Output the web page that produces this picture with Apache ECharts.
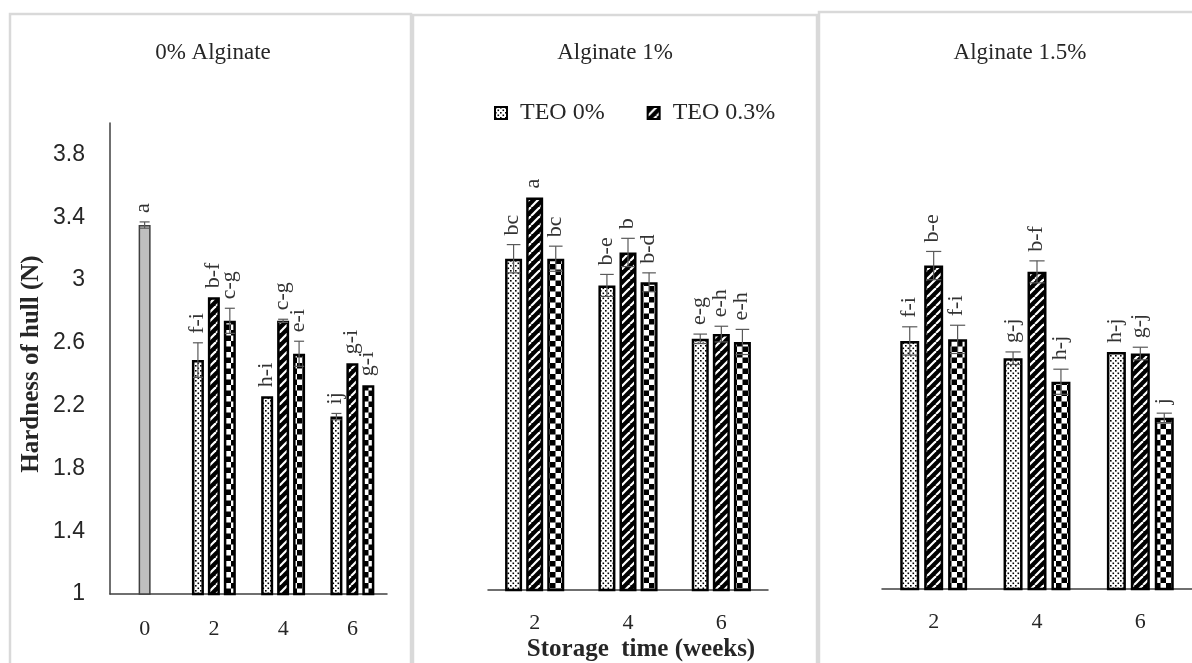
<!DOCTYPE html>
<html><head><meta charset="utf-8">
<script src="https://cdn.jsdelivr.net/npm/echarts@6/dist/echarts.min.js"></script>
<style>html,body{margin:0;padding:0;background:#fff}#c{width:1192px;height:663px}</style>
</head><body><div id="c"></div>
<script>
// ---------- DATA ----------
const weeksCtrl = ['0', '2', '4', '6'];
const weeks = ['2', '4', '6'];
const seriesNames = ['TEO 0%', 'TEO 0.3%', 'TEO 0.6%'];
const legendNames = ['TEO 0%', 'TEO 0.3%'];
const panelTitles = ['0% Alginate', 'Alginate 1%', 'Alginate 1.5%'];
const yAxisTitle = 'Hardness of hull (N)';
const xAxisTitle = 'Storage  time (weeks)';
const yMin = 1, yMax = 4, yStep = 0.4;

// Control at week 0 (0% alginate, no TEO)
const ctrlValue = 3.35, ctrlErr = 0.02, ctrlLetter = 'a';

// 0% alginate
const alg0Values = [[2.49, 2.26, 2.13], [2.89, 2.74, 2.47], [2.74, 2.53, 2.33]];
const alg0Errors = [[0.11, 0.0, 0.02], [0.0, 0.01, 0.0], [0.08, 0.08, 0.0]];
const alg0Letters = [['f-i', 'h-i', 'ij'], ['b-f', 'c-g', 'g-i'], ['c-g', 'e-i', 'g-i']];

// Alginate 1%
const alg1Values = [[3.11, 2.94, 2.60], [3.50, 3.15, 2.63], [3.11, 2.96, 2.58]];
const alg1Errors = [[0.09, 0.07, 0.03], [0.0, 0.09, 0.05], [0.08, 0.06, 0.08]];
const alg1Letters = [['bc', 'b-e', 'e-g'], ['a', 'b', 'e-h'], ['bc', 'b-d', 'e-h']];

// Alginate 1.5%
const alg15Values = [[2.58, 2.47, 2.51], [3.06, 3.02, 2.50], [2.59, 2.32, 2.09]];
const alg15Errors = [[0.09, 0.04, 0.0], [0.09, 0.07, 0.04], [0.09, 0.08, 0.03]];
const alg15Letters = [['f-i', 'g-j', 'h-j'], ['b-e', 'b-f', 'g-j'], ['f-i', 'h-j', 'j']];

// ---------- STYLE ----------
function makeCanvas(w, h, draw) {
  const c = document.createElement('canvas'); c.width = w; c.height = h;
  draw(c.getContext('2d')); return c;
}
const dotCanvas = makeCanvas(5, 5, g => {
  g.fillStyle = '#fff'; g.fillRect(0, 0, 5, 5);
  g.fillStyle = '#000'; g.fillRect(0, 0, 1.6, 1.6); g.fillRect(2.5, 2.5, 1.6, 1.6);
});
const stripeCanvas = makeCanvas(9, 9, g => {
  g.fillStyle = '#000'; g.fillRect(0, 0, 9, 9);
  g.strokeStyle = '#fff'; g.lineWidth = 2.2;
  [-9, 0, 9].forEach(k => { g.beginPath(); g.moveTo(k, 9); g.lineTo(k + 9, 0); g.stroke(); });
});
const checkCanvas = makeCanvas(11, 11, g => {
  g.fillStyle = '#fff'; g.fillRect(0, 0, 11, 11);
  g.fillStyle = '#000'; g.fillRect(0, 0, 5.5, 5.5); g.fillRect(5.5, 5.5, 5.5, 5.5);
});
const patterns = [dotCanvas, stripeCanvas, checkCanvas].map(c => ({ image: c, repeat: 'repeat' }));

const serif = '"Liberation Serif", "Times New Roman", serif';
const panels = [
  { left: 110, top: 123, width: 277, barWidth: 12, barGap: 0.33, cats: weeksCtrl, values: alg0Values, errors: alg0Errors, letters: alg0Letters, ctrl: true },
  { left: 488, top: 119, width: 280, barWidth: 17, barGap: 0.24, cats: weeks, values: alg1Values, errors: alg1Errors, letters: alg1Letters },
  { left: 882, top: 118, width: 318, barWidth: 19, barGap: 0.26, cats: weeks, values: alg15Values, errors: alg15Errors, letters: alg15Letters }
];
const plotH = 471;

const grids = [], xAxes = [], yAxes = [], series = [];
panels.forEach((p, pi) => {
  grids.push({ left: p.left, top: p.top, width: p.width, height: plotH, containLabel: false });
  xAxes.push({
    type: 'category', gridIndex: pi, data: p.cats,
    axisLine: { lineStyle: { color: '#404040', width: 1.5 } },
    axisTick: { show: false },
    axisLabel: { margin: pi === 0 ? 24 : 22, fontFamily: serif, fontSize: 22, color: '#262626' }
  });
  yAxes.push({
    type: 'value', gridIndex: pi, min: yMin, max: yMax, interval: yStep,
    show: pi === 0,
    splitLine: { show: false },
    axisLine: { show: true, lineStyle: { color: '#404040', width: 1.5 } },
    axisTick: { show: false },
    axisLabel: { showMaxLabel: false, margin: 25, fontFamily: '"Liberation Sans", Arial, sans-serif', fontSize: 23, color: '#262626',
      formatter: v => String(Math.round(v * 10) / 10) }
  });
  const offset = p.ctrl ? 1 : 0;
  for (let s = 0; s < 3; s++) {
    const data = p.values[s].slice();
    if (p.ctrl) {
      data.unshift(s === 1 ? { value: ctrlValue, itemStyle: { color: '#bfbfbf', borderColor: '#404040', borderWidth: 1.5 } } : '-');
    }
    series.push({
      type: 'bar', name: seriesNames[s], xAxisIndex: pi, yAxisIndex: pi,
      barWidth: p.barWidth, barGap: (p.barGap * 100) + '%',
      itemStyle: { color: patterns[s], borderColor: '#000', borderWidth: 2.5 },
      emphasis: { disabled: true },
      data: data, z: 2
    });
  }
  // error bars + letters
  const ebData = [], ebLetters = [];
  if (p.ctrl) { ebData.push([0, ctrlValue, ctrlErr, 1]); ebLetters.push(ctrlLetter); }
  for (let s = 0; s < 3; s++) {
    p.values[s].forEach((v, i) => { ebData.push([i + offset, v, p.errors[s][i], s]); ebLetters.push(p.letters[s][i]); });
  }
  const spacing = p.barWidth * (1 + p.barGap);
  series.push({
    type: 'custom', xAxisIndex: pi, yAxisIndex: pi, z: 5, silent: true,
    encode: { x: 0, y: 1 },
    data: ebData,
    renderItem: (params, api) => {
      const cat = api.value(0), v = api.value(1), e = api.value(2), s = api.value(3);
      const base = api.coord([cat, v]);
      const x = base[0] + (s - 1) * spacing;
      const yTop = api.coord([cat, v + e])[1];
      const yBot = api.coord([cat, v - e])[1];
      const cap = Math.max(5, p.barWidth * 0.4);
      const children = [];
      if (e > 0) {
        const ls = { stroke: '#595959', lineWidth: 1.2 };
        children.push({ type: 'line', shape: { x1: x, y1: yTop, x2: x, y2: yBot }, style: ls });
        children.push({ type: 'line', shape: { x1: x - cap, y1: yTop, x2: x + cap, y2: yTop }, style: ls });
        children.push({ type: 'line', shape: { x1: x - cap, y1: yBot, x2: x + cap, y2: yBot }, style: ls });
      }
      children.push({
        type: 'text', x: x - 1, y: yTop - 9, rotation: Math.PI / 2,
        style: { text: ebLetters[params.dataIndex], font: '22px ' + serif, fill: '#333', align: 'left', verticalAlign: 'middle' }
      });
      return { type: 'group', children: children };
    }
  });
});

const frameStyle = { fill: 'transparent', stroke: '#d9d9d9', lineWidth: 2.5 };
const option = {
  animation: false,
  backgroundColor: '#fff',
  grid: grids, xAxis: xAxes, yAxis: yAxes, series: series,
  legend: {
    data: legendNames, left: 489, top: 96, icon: 'rect', itemWidth: 12, itemHeight: 12, itemGap: 42,
    textStyle: { fontFamily: serif, fontSize: 24, color: '#262626', padding: [0, 0, 0, 8] },
    selectedMode: false
  },
  graphic: [
    { type: 'rect', z: -10, shape: { x: 10, y: 14, width: 401, height: 700 }, style: frameStyle },
    { type: 'rect', z: -10, shape: { x: 413, y: 15, width: 404, height: 700 }, style: frameStyle },
    { type: 'rect', z: -10, shape: { x: 819, y: 12, width: 400, height: 700 }, style: frameStyle },
    { type: 'text', x: 213, y: 53, style: { text: panelTitles[0], font: '23px ' + serif, fill: '#262626', textAlign: 'center', textVerticalAlign: 'middle' } },
    { type: 'text', x: 615, y: 53, style: { text: panelTitles[1], font: '23px ' + serif, fill: '#262626', textAlign: 'center', textVerticalAlign: 'middle' } },
    { type: 'text', x: 1020, y: 53, style: { text: panelTitles[2], font: '23px ' + serif, fill: '#262626', textAlign: 'center', textVerticalAlign: 'middle' } },
    { type: 'text', x: 32, y: 364, rotation: Math.PI / 2, style: { text: yAxisTitle, font: 'bold 25px ' + serif, fill: '#262626', textAlign: 'center', textVerticalAlign: 'middle' } },
    { type: 'text', x: 641, y: 650, style: { text: xAxisTitle, font: 'bold 25px ' + serif, fill: '#262626', textAlign: 'center', textVerticalAlign: 'middle' } }
  ]
};
const chart = echarts.init(document.getElementById('c'), null, { renderer: 'canvas' });
chart.setOption(option);
</script></body></html>
